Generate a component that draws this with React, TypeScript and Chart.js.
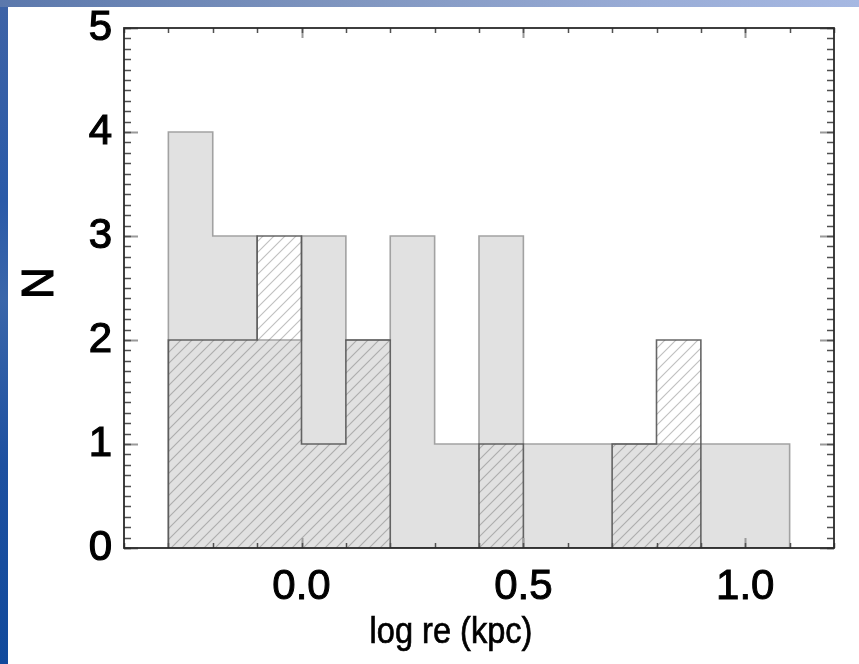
import React, { useEffect, useRef } from 'react';
import { Chart, registerables } from 'chart.js';

Chart.register(...registerables);

// ---- data ----
const binEdges = [-0.3, -0.2, -0.1, 0.0, 0.1, 0.2, 0.3, 0.4, 0.5, 0.6, 0.7, 0.8, 0.9, 1.0, 1.1];
const allCounts = [4, 3, 2, 3, 2, 3, 1, 3, 1, 1, 1, 1, 1, 1];
const hatchedCounts = [2, 2, 3, 1, 2, 0, 0, 1, 0, 0, 1, 2, 0, 0];
const xTickValues = [0.0, 0.5, 1.0];
const yTickValues = [0, 1, 2, 3, 4, 5];
const xTitle = 'log re (kpc)';
const yTitle = 'N';

const FONT = '"Liberation Sans", Arial, Helvetica, sans-serif';

function stepPoints(counts: number[]) {
  const pts: { x: number; y: number }[] = [{ x: binEdges[0], y: 0 }];
  counts.forEach((c, i) => pts.push({ x: binEdges[i], y: c }));
  const last = binEdges[counts.length];
  pts.push({ x: last, y: counts[counts.length - 1] });
  pts.push({ x: last, y: 0 });
  return pts;
}

function makeHatch(): CanvasPattern | string {
  const s = 11;
  const c = document.createElement('canvas');
  c.width = s;
  c.height = s;
  const g = c.getContext('2d');
  if (!g) return 'rgba(0,0,0,0)';
  g.strokeStyle = 'rgba(95,95,95,0.40)';
  g.lineWidth = 1.1;
  g.beginPath();
  g.moveTo(0, s);
  g.lineTo(s, 0);
  g.moveTo(-s / 2, s / 2);
  g.lineTo(s / 2, -s / 2);
  g.moveTo(s / 2, s * 1.5);
  g.lineTo(s * 1.5, s / 2);
  g.stroke();
  return g.createPattern(c, 'repeat') || 'rgba(0,0,0,0)';
}

const framePlugin = {
  id: 'idlFrame',
  afterDatasetsDraw(chart: any) {
    const { ctx, chartArea: a, scales } = chart;
    const xs = scales.x;
    const ys = scales.y;
    ctx.save();
    // y ticks (left & right, inward)
    const yMin = ys.min, yMax = ys.max;
    const nY = Math.round((yMax - yMin) / 0.1);
    for (let k = 0; k <= nY; k++) {
      const v = yMin + k * 0.1;
      const py = Math.round(ys.getPixelForValue(v)) + 0.5;
      const major = k % 10 === 0;
      if (major) {
        ctx.strokeStyle = '#9a9a9a';
        ctx.lineWidth = 2;
        ctx.beginPath();
        ctx.moveTo(a.left, py); ctx.lineTo(a.left + 14, py);
        ctx.moveTo(a.right, py); ctx.lineTo(a.right - 14, py);
        ctx.stroke();
      }
      ctx.strokeStyle = '#505050';
      ctx.lineWidth = 1.5;
      ctx.beginPath();
      ctx.moveTo(a.left, py); ctx.lineTo(a.left + 7, py);
      ctx.moveTo(a.right, py); ctx.lineTo(a.right - 7, py);
      ctx.stroke();
    }
    // x ticks (top & bottom, inward)
    const xMin = xs.min, xMax = xs.max;
    const nX = Math.round((xMax - xMin) / 0.1);
    for (let k = 0; k <= nX; k++) {
      const v = xMin + k * 0.1;
      const px = Math.round(xs.getPixelForValue(v)) + 0.5;
      const major = Math.abs(Math.round(v * 2) - v * 2) < 1e-6;
      if (major) {
        ctx.strokeStyle = '#9a9a9a';
        ctx.lineWidth = 2;
        ctx.beginPath();
        ctx.moveTo(px, a.top); ctx.lineTo(px, a.top + 10);
        ctx.moveTo(px, a.bottom); ctx.lineTo(px, a.bottom - 10);
        ctx.stroke();
      }
      ctx.strokeStyle = '#505050';
      ctx.lineWidth = 1.5;
      ctx.beginPath();
      ctx.moveTo(px, a.top); ctx.lineTo(px, a.top + 5);
      ctx.moveTo(px, a.bottom); ctx.lineTo(px, a.bottom - 5);
      ctx.stroke();
    }
    // frame
    ctx.strokeStyle = '#2a2a2a';
    ctx.lineWidth = 1.8;
    ctx.strokeRect(a.left, a.top, a.right - a.left, a.bottom - a.top);
    ctx.restore();
  },
  afterDraw(chart: any) {
    const { ctx, chartArea: a } = chart;
    ctx.save();
    ctx.fillStyle = '#000';
    ctx.strokeStyle = '#000';
    // x title (slightly condensed, as in the original)
    ctx.save();
    ctx.font = `37px ${FONT}`;
    ctx.textAlign = 'center';
    ctx.textBaseline = 'alphabetic';
    ctx.translate((a.left + a.right) / 2 - 28, 636);
    ctx.scale(0.88, 1);
    ctx.lineWidth = 0.7;
    ctx.fillText(xTitle, 0, 0);
    ctx.strokeText(xTitle, 0, 0);
    ctx.restore();
    // y title
    ctx.font = `44px ${FONT}`;
    ctx.textAlign = 'center';
    ctx.translate(33, (a.top + a.bottom) / 2 - 5);
    ctx.rotate(-Math.PI / 2);
    ctx.textBaseline = 'middle';
    ctx.lineWidth = 1;
    ctx.fillText(yTitle, 0, 0);
    ctx.strokeText(yTitle, 0, 0);
    ctx.restore();
  },
};

export default function App() {
  const ref = useRef<HTMLCanvasElement | null>(null);

  useEffect(() => {
    const canvas = ref.current;
    if (!canvas) return;
    const hatch = makeHatch();
    const chart = new Chart(canvas, {
      type: 'line',
      data: {
        datasets: [
          {
            label: 'hatched',
            data: stepPoints(hatchedCounts),
            stepped: true,
            fill: 'origin',
            backgroundColor: hatch as any,
            borderColor: 'rgba(85,85,85,0.9)',
            borderWidth: 1.6,
            pointRadius: 0,
            tension: 0,
          },
          {
            label: 'all',
            data: stepPoints(allCounts),
            stepped: true,
            fill: 'origin',
            backgroundColor: '#e1e1e1',
            borderColor: '#a2a2a2',
            borderWidth: 1.6,
            pointRadius: 0,
            tension: 0,
          },
        ],
      },
      options: {
        animation: false,
        responsive: false,
        devicePixelRatio: 1,
        events: [],
        layout: { padding: { top: 21, right: 25, left: 0, bottom: 0 } },
        plugins: {
          legend: { display: false },
          tooltip: { enabled: false },
        },
        scales: {
          x: {
            type: 'linear',
            min: -0.4,
            max: 1.2,
            grid: { display: false, drawTicks: false },
            border: { display: false },
            afterBuildTicks: (s: any) => {
              s.ticks = xTickValues.map((v) => ({ value: v }));
            },
            afterFit: (s: any) => {
              s.height = 116;
              s.paddingLeft = 0;
              s.paddingRight = 0;
              s.paddingTop = 0;
              s.paddingBottom = 0;
            },
            ticks: {
              maxRotation: 0,
              autoSkip: false,
              padding: 14,
              color: '#000',
              textStrokeColor: '#000',
              textStrokeWidth: 1,
              font: { family: FONT, size: 42 },
              callback: (v: any) => Number(v).toFixed(1),
            },
          },
          y: {
            type: 'linear',
            min: 0,
            max: 5,
            grid: { display: false, drawTicks: false },
            border: { display: false },
            afterBuildTicks: (s: any) => {
              s.ticks = yTickValues.map((v) => ({ value: v }));
            },
            afterFit: (s: any) => {
              s.width = 116;
              s.paddingLeft = 0;
              s.paddingRight = 0;
              s.paddingTop = 0;
              s.paddingBottom = 0;
            },
            ticks: {
              padding: 12,
              color: '#000',
              textStrokeColor: '#000',
              textStrokeWidth: 1.2,
              font: { family: FONT, size: 42 },
              callback: (v: any) => String(Math.round(Number(v))),
            },
          },
        },
      },
      plugins: [framePlugin],
    } as any);
    return () => chart.destroy();
  }, []);

  return (
    <div
      style={{
        position: 'fixed',
        left: 0,
        top: 0,
        width: 859,
        height: 664,
        overflow: 'hidden',
        background: 'linear-gradient(to bottom, #3e63a6 0%, #2a5aa8 30%, #3a66aa 45%, #1d50a0 70%, #114a9c 100%)',
      }}
    >
      <div
        style={{
          position: 'absolute',
          left: 0,
          top: 0,
          width: 859,
          height: 7,
          background: 'linear-gradient(to right, #5b78ac 0%, #7f95bf 40%, #99acd6 75%, #a6b8e2 100%)',
        }}
      />
      <div
        style={{
          position: 'absolute',
          left: 8,
          top: 7,
          width: 851,
          height: 657,
          background: '#ffffff',
        }}
      >
        <canvas ref={ref} width={851} height={657} style={{ width: 851, height: 657, display: 'block' }} />
      </div>
    </div>
  );
}
